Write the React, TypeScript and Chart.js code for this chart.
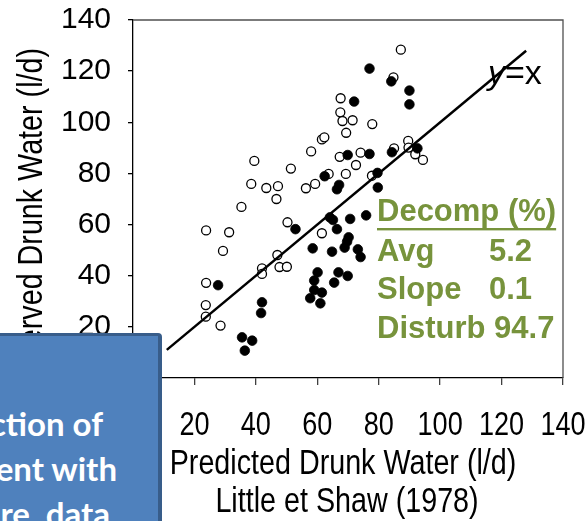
import React, { useEffect, useRef } from "react";
import { Chart, registerables } from "chart.js";

Chart.register(...registerables);

// ---- data ----
const xTickValues = [0, 20, 40, 60, 80, 100, 120, 140];
const yTickValues = [0, 20, 40, 60, 80, 100, 120, 140];

const openX = [39.5, 51.4, 38.5, 43.4, 47.2, 46.7, 35.3, 23.8, 31.3, 50.3, 29.3, 47.0, 47.7, 50.1, 42.0, 42.0, 23.8, 23.7, 23.7, 28.5,
  67.6, 67.5, 68.2, 71.5, 77.9, 69.4, 61.5, 62.3, 58.0, 67.3, 74.1, 72.6, 69.3, 63.7, 59.3, 56.3, 77.8, 61.5,
  87.2, 84.8, 85.0, 89.6, 89.7, 91.9, 94.4];
const openY = [84.9, 81.9, 75.9, 74.3, 75.0, 70.0, 66.9, 57.7, 57.0, 60.9, 49.7, 48.1, 43.4, 43.5, 42.9, 40.7, 37.2, 28.5, 24.0, 20.5,
  109.4, 103.9, 100.5, 100.8, 99.3, 95.9, 93.3, 94.1, 88.6, 86.5, 88.1, 83.3, 79.8, 79.8, 75.9, 74.2, 79.1, 56.6,
  128.4, 117.6, 89.8, 92.7, 90.1, 87.5, 85.3];

const filledX = [52.9, 27.7, 42.0, 41.7, 35.5, 38.8, 36.4, 77.0, 72.0, 69.9, 77.0, 62.4, 67.1, 66.4, 79.6, 79.7,
  64.1, 65.1, 70.7, 75.9, 66.4, 70.2, 69.7, 68.9, 58.5, 64.8, 73.2, 74.1, 60.1, 59.0, 66.9, 69.9, 65.5, 59.0, 61.5, 57.7, 61.0,
  84.1, 90.0, 90.0, 84.3, 92.6];
const filledY = [58.2, 36.3, 29.6, 25.4, 15.9, 14.6, 10.7, 121.0, 108.1, 87.2, 87.6, 78.9, 75.5, 73.8, 80.2, 74.5,
  62.8, 61.8, 62.2, 63.6, 58.2, 55.0, 53.3, 51.0, 50.7, 49.4, 50.3, 47.3, 41.3, 38.1, 41.3, 39.9, 37.3, 34.4, 33.4, 31.2, 29.2,
  116.0, 112.4, 107.0, 88.3, 89.8];

const lineX = [11, 128];
const lineY = [11, 128];

const xTitleLines = ["Predicted Drunk Water (l/d)", "Little et Shaw (1978)"];
const yTitle = "Observed Drunk Water (l/d)";
const decompTitle = "Decomp (%)";
const statLabels = ["Avg", "Slope", "Disturb"];
const statValues = ["5.2", "0.1", "94.7"];
const boxLines = ["ction of", "ent with", "re, data"];

const ARIAL = '"Liberation Sans", Arial, sans-serif';
const GREEN = "#77933C";
const NARROW_SCALE = 0.82;

function narrowText(ctx: any, text: string, x: number, y: number, align: string) {
  ctx.save();
  ctx.translate(x, y);
  ctx.scale(NARROW_SCALE, 1);
  ctx.textAlign = align;
  ctx.fillText(text, 0, 0);
  ctx.restore();
}

const textPlugin = {
  id: "texts",
  afterDraw(chart: any) {
    const ctx = chart.ctx;
    const a = chart.chartArea;
    ctx.save();
    // top & right border
    ctx.strokeStyle = "#505050";
    ctx.lineWidth = 1.3;
    ctx.beginPath();
    ctx.moveTo(a.left, a.top);
    ctx.lineTo(a.right, a.top);
    ctx.lineTo(a.right, a.bottom);
    ctx.stroke();

    ctx.fillStyle = "#000";
    ctx.textBaseline = "alphabetic";

    // x tick labels (condensed)
    const xs = chart.scales.x;
    ctx.font = `33px ${ARIAL}`;
    xTickValues.forEach((v) => {
      narrowText(ctx, String(v), xs.getPixelForValue(v), 435, "center");
    });

    // y title (rotated, condensed)
    ctx.save();
    ctx.translate(42, 48);
    ctx.rotate(-Math.PI / 2);
    ctx.scale(NARROW_SCALE, 1);
    ctx.font = `35px ${ARIAL}`;
    ctx.textAlign = "right";
    ctx.fillText(yTitle, 0, 0);
    ctx.restore();

    // x title
    ctx.font = `35px ${ARIAL}`;
    narrowText(ctx, xTitleLines[0], 343, 474, "center");
    narrowText(ctx, xTitleLines[1], 347, 512, "center");

    // y=x label
    ctx.textAlign = "left";
    ctx.font = `italic 34px ${ARIAL}`;
    ctx.fillText("y", 488, 84);
    const yw = ctx.measureText("y").width;
    ctx.font = `34px ${ARIAL}`;
    ctx.fillText("=x", 488 + yw, 84);

    // decomposition box
    ctx.fillStyle = GREEN;
    ctx.font = `bold 31px ${ARIAL}`;
    ctx.fillText(decompTitle, 377, 221);
    const w = ctx.measureText(decompTitle).width;
    ctx.fillRect(377, 228, w, 2.4);
    const baselines = [260.5, 299, 337.5];
    const valueCol = 489;
    statLabels.forEach((lab, i) => {
      ctx.fillText(lab, 377, baselines[i]);
      const lw = ctx.measureText(lab + " ").width;
      ctx.fillText(statValues[i], Math.max(valueCol, 377 + lw), baselines[i]);
    });
    ctx.restore();
  },
};

export default function App() {
  const ref = useRef<HTMLCanvasElement | null>(null);
  useEffect(() => {
    if (!ref.current) return;
    const chart = new Chart(ref.current, {
      type: "scatter",
      data: {
        datasets: [
          {
            type: "line",
            data: lineX.map((x, i) => ({ x, y: lineY[i] })),
            borderColor: "#000",
            borderWidth: 2.5,
            pointRadius: 0,
            order: 0,
          } as any,
          {
            data: filledX.map((x, i) => ({ x, y: filledY[i] })),
            backgroundColor: "#000",
            borderColor: "#000",
            borderWidth: 0.8,
            pointRadius: 4.8,
            order: 1,
          },
          {
            data: openX.map((x, i) => ({ x, y: openY[i] })),
            backgroundColor: "#fff",
            borderColor: "#000",
            borderWidth: 1.3,
            pointRadius: 4.5,
            order: 2,
          },
        ],
      },
      options: {
        responsive: false,
        animation: false,
        events: [],
        layout: { padding: { top: 20, right: 24, left: 0, bottom: 0 } },
        plugins: { legend: { display: false }, tooltip: { enabled: false } },
        scales: {
          x: {
            type: "linear",
            min: 0,
            max: 140,
            afterBuildTicks: (s: any) => {
              s.ticks = xTickValues.map((v) => ({ value: v }));
            },
            afterFit: (s: any) => {
              s.height = 521 - 378;
              s.paddingLeft = 0;
              s.paddingRight = 0;
            },
            grid: { drawOnChartArea: false, drawTicks: true, tickLength: 7, color: "#404040", lineWidth: 1.3 },
            border: { color: "#000", width: 1.3 },
            ticks: { display: false, autoSkip: false },
          },
          y: {
            type: "linear",
            min: 0,
            max: 140,
            afterBuildTicks: (s: any) => {
              s.ticks = yTickValues.map((v) => ({ value: v }));
            },
            afterFit: (s: any) => {
              s.width = 133;
              s.paddingTop = 0;
              s.paddingBottom = 0;
            },
            grid: { drawOnChartArea: false, drawTicks: true, tickLength: 5, color: "#000", lineWidth: 1.3 },
            border: { color: "#000", width: 1.3 },
            ticks: { color: "#000", font: { family: ARIAL, size: 30 }, padding: 17, autoSkip: false },
          },
        },
      },
      plugins: [textPlugin],
    } as any);
    return () => chart.destroy();
  }, []);

  return (
    <div style={{ position: "fixed", left: 0, top: 0, width: 587, height: 521, overflow: "hidden", background: "#fff" }}>
      <canvas ref={ref} width={587} height={521} style={{ position: "absolute", left: 0, top: 0, width: 587, height: 521 }} />
      <div
        style={{
          position: "absolute",
          left: -6,
          top: 333,
          width: 168,
          height: 200,
          boxSizing: "border-box",
          background: "#4F81BD",
          border: "3px solid #385D8A",
          borderRight: "4px solid #385D8A",
          borderRadius: 4,
          overflow: "hidden",
        }}
      >
        {boxLines.map((t, i) => (
          <div
            key={i}
            style={{
              position: "absolute",
              right: [55, 41, 48][i],
              top: [67, 112, 157][i],
              whiteSpace: "nowrap",
              color: "#fff",
              fontFamily: "Lato, 'Open Sans', sans-serif",
              fontWeight: 700,
              fontSize: 33,
              lineHeight: "40px",
            }}
          >
            {t}
          </div>
        ))}
      </div>
    </div>
  );
}
